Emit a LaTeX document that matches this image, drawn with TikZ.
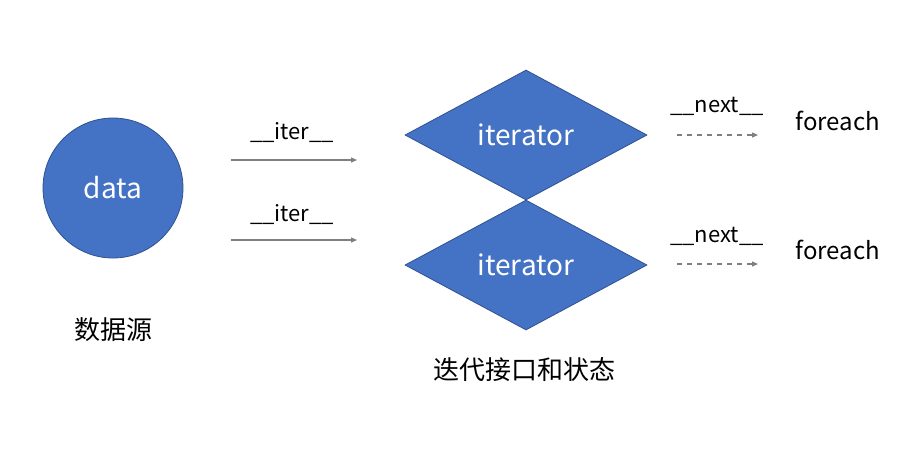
\documentclass[tikz,border=0pt]{standalone}
\usepackage{fontspec}
\setmainfont{Noto Sans CJK SC}
\usetikzlibrary{shapes.geometric,arrows.meta}
\definecolor{fillblue}{HTML}{4472C4}
\definecolor{edgeblue}{HTML}{2F528F}
\definecolor{arrowgray}{HTML}{7F7F7F}
\tikzset{
  blueshape/.style={fill=fillblue,draw=edgeblue,line width=0.8pt,text=white,font=\fontsize{28}{32}\selectfont,inner sep=0pt},
  lbl/.style={font=\fontsize{24}{28}\selectfont,inner sep=0pt,text=black},
  methodlbl/.style={font=\fontsize{22}{26}\selectfont,inner sep=0pt,text=black},
  cjklbl/.style={font=\fontsize{26}{30}\selectfont,inner sep=0pt,text=black},
  solidarrow/.style={draw=arrowgray,line width=1.3pt,-{Triangle[length=6pt,width=5pt]}},
  dasharrow/.style={draw=arrowgray,line width=1.3pt,dash pattern=on 5pt off 5pt,-{Triangle[length=6pt,width=5pt]}},
}
\begin{document}
\begin{tikzpicture}[x=1pt,y=-1pt]
\useasboundingbox (0,0) rectangle (915,448);
\fill[white] (0,0) rectangle (915,448);
% data source
\node[blueshape,circle,minimum size=140pt] (data) at (113,188) {data};
\node[cjklbl] (src) at (113,330) {数据源};
% iterators
\node[blueshape,diamond,minimum width=242pt,minimum height=130pt,shape aspect=1.86] (it1) at (526,135) {iterator};
\node[blueshape,diamond,minimum width=242pt,minimum height=130pt,shape aspect=1.86] (it2) at (526,265) {iterator};
\node[cjklbl] (state) at (524,370) {迭代接口和状态};
% iter arrows
\coordinate (a1s) at (231,160); \coordinate (a1e) at (357,160);
\coordinate (a2s) at (231,240); \coordinate (a2e) at (357,240);
\draw[solidarrow] (a1s) -- (a1e);
\draw[solidarrow] (a2s) -- (a2e);
\node[methodlbl] (iterl1) at (292,133) {\_\_iter\_\_};
\node[methodlbl] (iterl2) at (292,215) {\_\_iter\_\_};
% next arrows
\coordinate (n1s) at (677,135); \coordinate (n1e) at (758,135);
\coordinate (n2s) at (677,264); \coordinate (n2e) at (758,264);
\draw[dasharrow] (n1s) -- (n1e);
\draw[dasharrow] (n2s) -- (n2e);
\node[methodlbl] (nextl1) at (717,106) {\_\_next\_\_};
\node[methodlbl] (nextl2) at (717,236) {\_\_next\_\_};
\node[lbl] (fe1) at (838,121) {foreach};
\node[lbl] (fe2) at (838,250) {foreach};
\end{tikzpicture}
\end{document}
